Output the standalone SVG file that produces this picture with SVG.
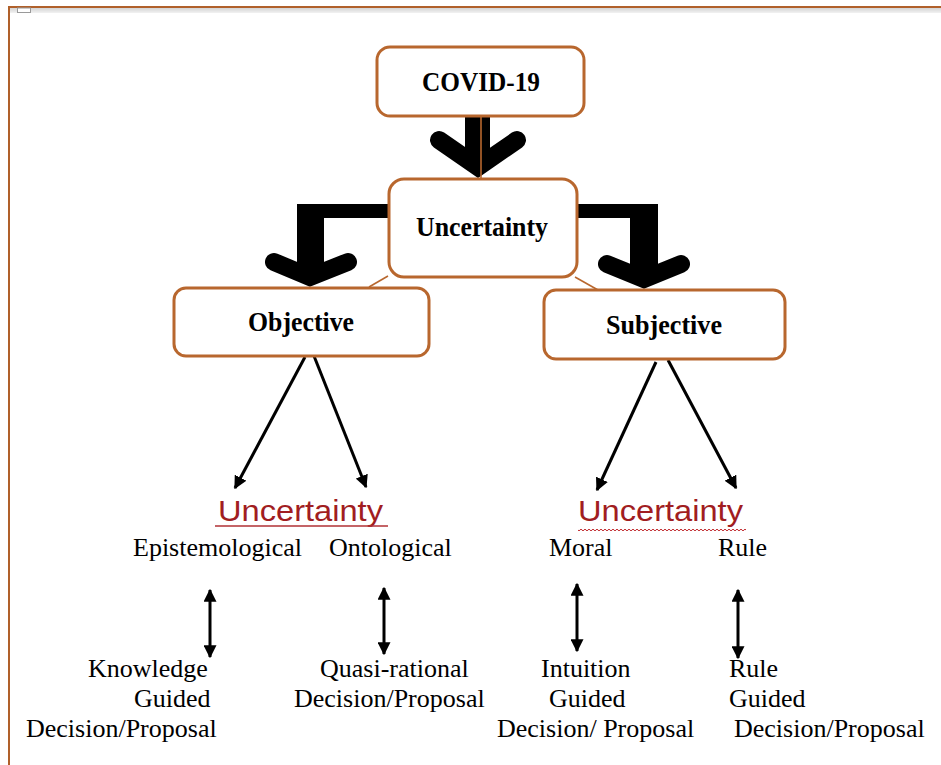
<svg xmlns="http://www.w3.org/2000/svg" width="941" height="765" viewBox="0 0 941 765">
<defs>
<style>
.box{fill:#fff;stroke:#b8672e;stroke-width:3}
.thin{stroke:#b8672e;stroke-width:1.6;fill:none}
.lbl{font-family:"Liberation Serif","Times New Roman",serif;font-weight:bold;font-size:27px;fill:#000;text-anchor:middle}
.red{font-family:"Liberation Sans",Arial,sans-serif;font-size:30px;fill:#a11d21}
.t{font-family:"Liberation Serif","Times New Roman",serif;font-size:26px;fill:#000}
.big{fill:#000}
.head{fill:none;stroke:#000;stroke-width:18;stroke-linecap:round;stroke-linejoin:miter;stroke-miterlimit:10}
.arr{stroke:#000;stroke-width:3;fill:none}
</style>
<marker id="ah" viewBox="0 0 10 10" refX="9" refY="5" markerUnits="userSpaceOnUse" markerWidth="13" markerHeight="13" orient="auto-start-reverse">
<path d="M0,0 L10,5 L0,10 z" fill="#000"/>
</marker>
<linearGradient id="band" x1="0" y1="0" x2="0" y2="1">
<stop offset="0" stop-color="#d4d4d4"/>
<stop offset="1" stop-color="#f2f2f2"/>
</linearGradient>
<pattern id="wave" width="4" height="4" patternUnits="userSpaceOnUse">
<path d="M0,2 Q1,0.3 2,2 T4,2" stroke="#c0282c" stroke-width="1" fill="none"/>
</pattern>
</defs>
<rect width="941" height="765" fill="#fff"/>
<g id="frame">
<rect x="10" y="8" width="931" height="5" fill="url(#band)"/>
<line x1="8" y1="7" x2="941" y2="7" stroke="#b0602a" stroke-width="2"/>
<line x1="9" y1="7" x2="9" y2="765" stroke="#b0602a" stroke-width="2"/>
<rect x="17.5" y="8" width="13" height="4.5" fill="#fff" stroke="#9a9a9a" stroke-width="1"/>
</g>
<g id="connectors">
<rect class="big" x="465" y="116" width="25" height="48"/>
<polyline class="head" points="439,140 478,167 517,140"/>
<rect class="big" x="297" y="204" width="92" height="14"/>
<rect class="big" x="297" y="204" width="27" height="70"/>
<polyline class="head" points="274,262 310,277 348,262"/>
<rect class="big" x="577" y="204" width="81" height="14"/>
<rect class="big" x="630" y="204" width="28" height="72"/>
<polyline class="head" points="607,264 644,279 681,264"/>
<line class="thin" x1="481" y1="116" x2="481" y2="179"/>
<line class="thin" x1="388" y1="276" x2="369" y2="287"/>
<line class="thin" x1="575" y1="277" x2="598" y2="290"/>
<line class="arr" x1="305" y1="357" x2="235" y2="488" marker-end="url(#ah)"/>
<line class="arr" x1="314" y1="356" x2="366" y2="487" marker-end="url(#ah)"/>
<line class="arr" x1="656" y1="362" x2="597" y2="490" marker-end="url(#ah)"/>
<line class="arr" x1="668" y1="360" x2="736" y2="488" marker-end="url(#ah)"/>
<line class="arr" x1="210" y1="590" x2="210" y2="657" marker-start="url(#ah)" marker-end="url(#ah)"/>
<line class="arr" x1="384" y1="588" x2="384" y2="654" marker-start="url(#ah)" marker-end="url(#ah)"/>
<line class="arr" x1="577" y1="584" x2="577" y2="651" marker-start="url(#ah)" marker-end="url(#ah)"/>
<line class="arr" x1="738" y1="590" x2="738" y2="658" marker-start="url(#ah)" marker-end="url(#ah)"/>
</g>
<g id="covid">
<rect class="box" x="377" y="47" width="207" height="69" rx="13"/>
<text class="lbl" x="481" y="91" textLength="118" lengthAdjust="spacingAndGlyphs">COVID-19</text>
</g>
<g id="uncertainty">
<rect class="box" x="389" y="179" width="188" height="98" rx="15"/>
<text class="lbl" x="482" y="236" textLength="132" lengthAdjust="spacingAndGlyphs">Uncertainty</text>
</g>
<g id="objective">
<rect class="box" x="174" y="288" width="255" height="68" rx="12"/>
<text class="lbl" x="301" y="331" textLength="106" lengthAdjust="spacingAndGlyphs">Objective</text>
</g>
<g id="subjective">
<rect class="box" x="544" y="290" width="241" height="69" rx="12"/>
<text class="lbl" x="664" y="334" textLength="116" lengthAdjust="spacingAndGlyphs">Subjective</text>
</g>
<g id="objective-types">
<text class="red" x="218" y="521" textLength="165" lengthAdjust="spacingAndGlyphs">Uncertainty</text>
<line x1="215" y1="526" x2="388" y2="526" stroke="#b03035" stroke-width="1.5"/>
<text class="t" x="133" y="556">Epistemological</text>
<text class="t" x="329" y="556">Ontological</text>
</g>
<g id="subjective-types">
<text class="red" x="578" y="521" textLength="165" lengthAdjust="spacingAndGlyphs">Uncertainty</text>
<rect x="578" y="527" width="168" height="4" fill="url(#wave)"/>
<text class="t" x="549" y="556">Moral</text>
<text class="t" x="718" y="556">Rule</text>
</g>
<g id="knowledge">
<text class="t" x="88" y="677">Knowledge</text>
<text class="t" x="134" y="707">Guided</text>
<text class="t" x="26" y="737">Decision/Proposal</text>
</g>
<g id="quasi">
<text class="t" x="320" y="677">Quasi-rational</text>
<text class="t" x="294" y="707">Decision/Proposal</text>
</g>
<g id="intuition">
<text class="t" x="541" y="677">Intuition</text>
<text class="t" x="549" y="707">Guided</text>
<text class="t" x="497" y="737">Decision/ Proposal</text>
</g>
<g id="rule">
<text class="t" x="729" y="677">Rule</text>
<text class="t" x="729" y="707">Guided</text>
<text class="t" x="734" y="737">Decision/Proposal</text>
</g>
</svg>
